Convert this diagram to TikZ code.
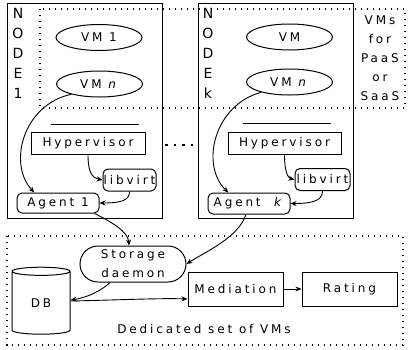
\documentclass[tikz,border=0pt]{standalone}
\usepackage{fontspec}
\setmainfont{DejaVu Sans}[LetterSpace=24]
\usetikzlibrary{arrows.meta,shapes.geometric,shapes.misc}
\begin{document}
\begin{tikzpicture}[x=1pt,y=-1pt,
  font=\fontsize{12}{19}\selectfont,
  line width=1pt,
  box/.style={draw, rectangle, inner sep=0pt},
  rbox/.style={draw, rectangle, rounded corners=5pt, inner sep=0pt},
  vm/.style={draw, ellipse, minimum width=86pt, minimum height=26pt, inner sep=0pt},
  dotline/.style={line width=1.4pt, dash pattern=on 1.4pt off 4.6pt},
  bigdots/.style={line width=2.6pt, dash pattern=on 2.6pt off 5.9pt},
  arr/.style={-{Stealth[length=6pt,width=5pt]}, line width=0.9pt},
  lbl/.style={align=center, inner sep=0pt},
  nodelbl/.style={align=center, inner sep=0pt, font=\fontsize{14}{20}\selectfont},
]
\useasboundingbox (0,0) rectangle (408,349);

% VM region (dotted)
\draw[dotline] (40,9) rectangle (405,108);
% dedicated region
\draw[dotline] (7,236) rectangle (403,345);

% physical nodes
\node[box, minimum width=155pt, minimum height=215pt] (node1) at (84.5,110.5) {};
\node[box, minimum width=155pt, minimum height=215pt] (nodek) at (275.5,110.5) {};

\node[nodelbl] (n1lbl) at (18,53) {N\\O\\D\\E\\1};
\node[nodelbl] (nklbl) at (208,53) {N\\O\\D\\E\\k};
\node[lbl] (vmslbl) at (380,58) {VMs\\for\\PaaS\\or\\SaaS};

% VMs
\node[vm] (vm1a) at (99,37.5) {VM 1};
\node[vm] (vmna) at (99.5,84) {VM \textit{n}};
\node[vm] (vmk1) at (289.5,37) {VM};
\node[vm] (vmkn) at (289.5,82) {VM \textit{n}};

% separators
\draw (51,124) -- (139,124);
\draw (243,123) -- (331,123);

% hypervisors
\node[box, minimum width=114pt, minimum height=22pt] (hyp1) at (88,143) {Hypervisor};
\node[box, minimum width=113pt, minimum height=22pt] (hypk) at (284.5,143) {Hypervisor};

% libvirt
\node[rbox, minimum width=53pt, minimum height=22pt] (lib1) at (129.5,180) {libvirt};
\node[rbox, minimum width=55pt, minimum height=22pt] (libk) at (322.5,179.5) {libvirt};

% agents
\node[rbox, minimum width=82pt, minimum height=20pt] (agent1) at (58,203) {Agent 1};
\node[rbox, minimum width=82pt, minimum height=21pt] (agentk) at (249,203.5) {Agent \ \textit{k}};

% dots between nodes
\draw[bigdots] (165,145) -- (197,145);

% dedicated set
\node[draw, rounded rectangle, minimum width=106pt, minimum height=36pt, inner sep=0pt, align=center] (storage) at (133,264) {Storage\\daemon};
\node[draw, cylinder, shape border rotate=90, aspect=0.4, minimum width=58pt, minimum height=67pt, inner sep=0pt] (db) at (41,303) {DB};
\node[box, minimum width=95pt, minimum height=34pt] (med) at (235.5,289) {Mediation};
\node[box, minimum width=95pt, minimum height=34pt] (rating) at (349.5,289) {Rating};
\node[lbl] (dedlbl) at (204,329) {Dedicated set of VMs};

% connectors
\draw[arr] (vmna.200) .. controls (22,105) and (8,165) .. (agent1.156);
\draw[arr] (vmkn.200) .. controls (214,105) and (200,165) .. (agentk.152);
\draw[arr] (hyp1.south) .. controls (88,172) and (92,178) .. (lib1.west);
\draw[arr] (hypk.south) .. controls (284.5,172) and (288,178) .. (libk.west);
\draw[arr] (lib1.south) .. controls (129.5,200) and (122,203) .. (agent1.east);
\draw[arr] (libk.south) .. controls (322.5,200) and (314,203.5) .. (agentk.east);
\draw[arr] ([xshift=-5pt]agent1.south east) .. controls (112,222) and (128,232) .. ([xshift=-4pt]storage.north);
\draw[arr] ([xshift=-3pt]agentk.south) .. controls (238,238) and (205,252) .. (storage.east);
\draw[arr] ([xshift=-23pt]storage.south) .. controls (100,292) and (85,298) .. ([yshift=3pt]db.east);
\draw[arr] ([yshift=2pt]db.east) .. controls (120,300) and (160,298) .. ([yshift=-10pt]med.west);
\draw[arr] (med.east) -- (rating.west);
\end{tikzpicture}
\end{document}
